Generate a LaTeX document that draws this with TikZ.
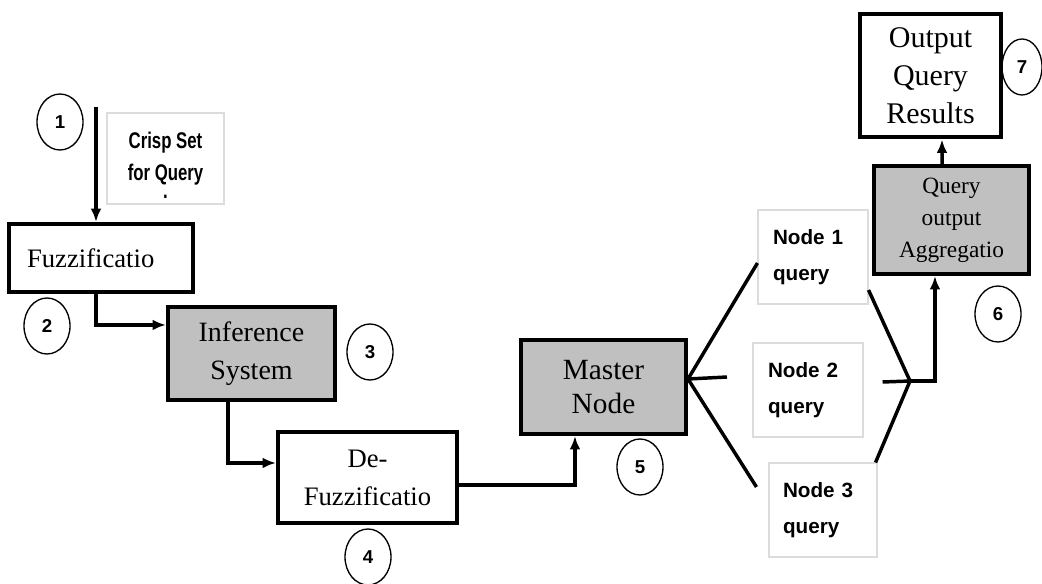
\documentclass[tikz,border=0pt]{standalone}
\usepackage{fontspec}
\setmainfont{Liberation Serif}
\newfontfamily\qfont{Liberation Sans}
\newfontfamily\crispfont{Liberation Sans}[FakeStretch=0.74]
\usetikzlibrary{shapes.geometric,arrows.meta,calc}
\definecolor{boxgray}{HTML}{C0C0C0}
\definecolor{thingray}{HTML}{DCDCDC}
\tikzset{
  box/.style={draw, line width=3pt, fill=white, inner sep=0pt, align=center, font=\fontsize{21}{29}\selectfont},
  graybox/.style={box, fill=boxgray},
  qbox/.style={draw=thingray, line width=0.8pt, fill=white, inner sep=0pt, minimum height=70.5pt, text width=60pt, align=left, font=\qfont\bfseries\fontsize{15.5}{27}\selectfont},
  crispbox/.style={draw=thingray, line width=0.8pt, fill=white, inner sep=0pt, minimum width=87.75pt, minimum height=68.25pt},
  crisptext/.style={align=center, inner sep=0pt, font=\crispfont\bfseries\fontsize{17}{24}\selectfont},
  num/.style={ellipse, draw, line width=1pt, inner sep=0pt, minimum width=34.5pt, minimum height=42pt, font=\qfont\bfseries\fontsize{14}{14}\selectfont},
  ln/.style={line width=2.6pt},
  arr/.style={line width=2.6pt, -{Latex[length=10pt,width=8pt]}}
}
\begin{document}
\begin{tikzpicture}[x=0.75pt,y=-0.75pt]
\useasboundingbox (0,0) rectangle (1042,584);
% boxes
\node[box, minimum width=138pt, minimum height=51pt, text width=111pt, align=left, font=\fontsize{20}{26}\selectfont] (fuzz) at (101,258) {Fuzzificatio};
\node[graybox, minimum width=125.25pt, minimum height=69.75pt] (infer) at (251.5,353.5) {Inference\\System};
\node[box, minimum width=134.25pt, minimum height=68.25pt, font=\fontsize{20}{28.5}\selectfont] (defuzz) at (367.5,477.5) {De-\\Fuzzificatio};
\node[graybox, minimum width=123.75pt, minimum height=70.5pt, font=\fontsize{22}{26}\selectfont] (master) at (603.5,387) {Master\\Node};
\node[graybox, minimum width=116.25pt, minimum height=81pt, font=\fontsize{17.5}{24}\selectfont] (agg) at (951.5,220) {Query\\output\\Aggregatio};
\node[box, minimum width=105.75pt, minimum height=92.25pt, font=\fontsize{22.5}{28.5}\selectfont] (out) at (930.5,76) {Output\\Query\\Results};
\node[crispbox, label={[crisptext, yshift=-5pt]center:{Crisp Set\\for Query\\[-10pt].}}] (crisp) at (165.5,158.5) {};
\node[qbox, minimum width=82.5pt] (n1) at (813,257) {Node~1\\query};
\node[qbox, minimum width=82.5pt] (n2) at (808,390) {Node~2\\query};
\node[qbox, minimum width=81pt] (n3) at (823,510) {Node~3\\query};
% numbers
\node[num] (c1) at (60,122) {1};
\node[num] (c2) at (47,326) {2};
\node[num] (c3) at (370,352) {3};
\node[num] (c4) at (368,557) {4};
\node[num] (c5) at (640,467) {5};
\node[num] (c6) at (998,314) {6};
\node[num, minimum width=30pt] (c7) at (1022,67) {7};
% connectors
\coordinate (s1) at (96,107);
\draw[arr] (s1) -- ([xshift=-3.75pt]fuzz.north);
\draw[arr] ([xshift=-3.75pt]fuzz.south) |- ([yshift=21.4pt]infer.west);
\draw[arr] ([xshift=-17.6pt]infer.south) |- ([yshift=10.9pt]defuzz.west);
\draw[arr] ([yshift=-5.6pt]defuzz.east) -| ([xshift=-21.4pt]master.south);
\coordinate (stub) at (727,377);
\draw[ln] ([yshift=6pt]master.east) -- ([yshift=-4.5pt]n1.west);
\draw[ln] ([yshift=6pt]master.east) -- (stub);
\draw[ln] ([yshift=6pt]master.east) -- ([xshift=-9pt,yshift=17.25pt]n3.west);
\coordinate (m) at (910,381);
\draw[ln] ([yshift=-24.75pt]n1.east) -- (m);
\draw[ln] ([xshift=14.25pt,yshift=6pt]n2.east) -- (m);
\draw[ln] ([xshift=-1.5pt]n3.north east) -- (m);
\draw[arr] (m) -| ([xshift=-12.4pt]agg.south);
\draw[arr] ([xshift=-7.1pt]agg.north) -- ([xshift=8.6pt]out.south);
\end{tikzpicture}
\end{document}
